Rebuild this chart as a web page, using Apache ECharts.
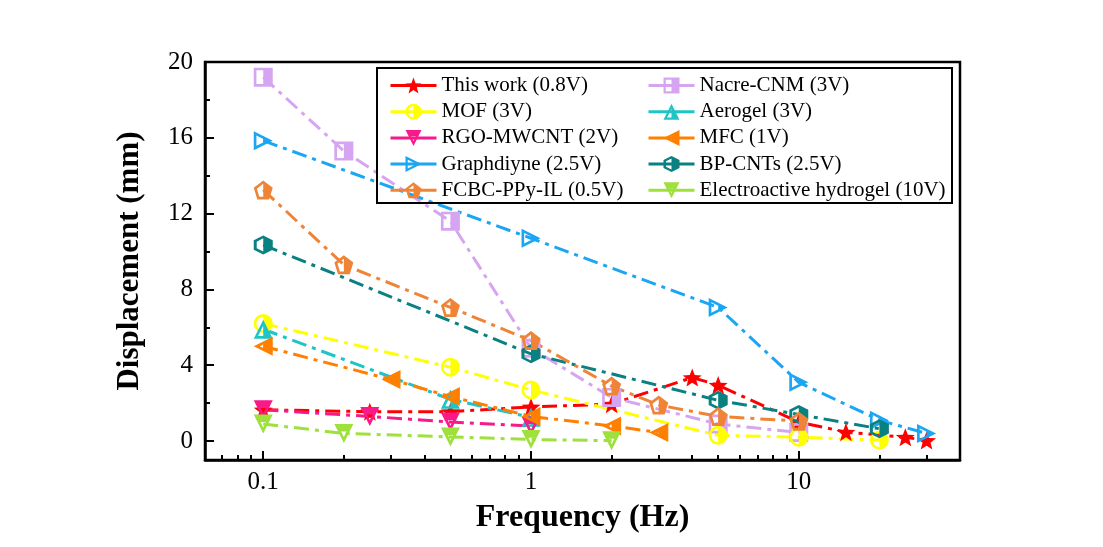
<!DOCTYPE html>
<html>
<head>
<meta charset="utf-8">
<script src="https://cdn.jsdelivr.net/npm/echarts@6/dist/echarts.min.js"></script>
<style>
  html, body { margin: 0; padding: 0; background: #fff; }
  #chart { width: 1103px; height: 547px; }
</style>
</head>
<body>
<div id="chart"></div>
<script>
// 各材料的频率(Hz)与位移(mm)
const freqThisWork = [0.1, 0.25, 0.5, 1, 2, 4, 5, 10, 15, 25, 30];
const dispThisWork = [1.65, 1.55, 1.55, 1.8, 1.95, 3.35, 2.95, 1.0, 0.47, 0.2, 0.03];
const freqNacre = [0.1, 0.2, 0.5, 1, 2, 5, 10];
const dispNacre = [19.2, 15.3, 11.6, 4.9, 2.3, 0.9, 0.45];
const freqMOF = [0.1, 0.5, 1, 5, 10, 20];
const dispMOF = [6.2, 3.9, 2.7, 0.3, 0.2, 0.05];
const freqAerogel = [0.1, 0.5, 1];
const dispAerogel = [5.9, 2.2, 1.25];
const freqRGO = [0.1, 0.25, 0.5, 1];
const dispRGO = [1.65, 1.3, 1.0, 0.8];
const freqMFC = [0.1, 0.3, 0.5, 1, 2, 3];
const dispMFC = [5.0, 3.25, 2.35, 1.3, 0.8, 0.45];
const freqGraphdiyne = [0.1, 1, 5, 10, 20, 30];
const dispGraphdiyne = [15.85, 10.7, 7.05, 3.1, 1.1, 0.4];
const freqBP = [0.1, 1, 5, 10, 20];
const dispBP = [10.35, 4.6, 2.15, 1.4, 0.65];
const freqFCBC = [0.1, 0.2, 0.5, 1, 2, 3, 5, 10];
const dispFCBC = [13.25, 9.3, 7.05, 5.3, 2.9, 1.9, 1.3, 1.05];
const freqHydrogel = [0.1, 0.2, 0.5, 1, 2];
const dispHydrogel = [0.9, 0.4, 0.22, 0.08, 0.02];

// 刻度
const xLabelTicks = [0.1, 1, 10];
const xMinorTicks = [0.07, 0.08, 0.09, 0.2, 0.3, 0.4, 0.5, 0.6, 0.7, 0.8, 0.9,
  2, 3, 4, 5, 6, 7, 8, 9, 20, 30];
const yLabelTicks = [0, 4, 8, 12, 16, 20];
const yMinorTicks = [2, 6, 10, 14, 18];

const FONT = 'Liberation Serif';

// 半填充符号（外框环 + 一半填充）
function shoelace(pts) {
  let s = 0;
  for (let i = 0; i < pts.length; i++) {
    const a = pts[i], b = pts[(i + 1) % pts.length];
    s += a[0] * b[1] - b[0] * a[1];
  }
  return s;
}
function orient(pts, sign) {
  return Math.sign(shoelace(pts)) === sign ? pts : pts.slice().reverse();
}
function polyStr(pts) {
  return 'M' + pts.map(p => p[0].toFixed(2) + ' ' + p[1].toFixed(2)).join(' L') + ' Z';
}
function edgeDist(c, a, b) {
  const dx = b[0] - a[0], dy = b[1] - a[1];
  return Math.abs(dx * (a[1] - c[1]) - dy * (a[0] - c[0])) / Math.hypot(dx, dy);
}
function halfSymbol(outer, fill, t) {
  let c;
  if (outer.length === 3) {
    const [A, B, C] = outer;
    const a = Math.hypot(B[0] - C[0], B[1] - C[1]);
    const b = Math.hypot(C[0] - A[0], C[1] - A[1]);
    const cc = Math.hypot(A[0] - B[0], A[1] - B[1]);
    const s = a + b + cc;
    c = [(a * A[0] + b * B[0] + cc * C[0]) / s, (a * A[1] + b * B[1] + cc * C[1]) / s];
  } else {
    c = [outer.reduce((s, p) => s + p[0], 0) / outer.length,
         outer.reduce((s, p) => s + p[1], 0) / outer.length];
  }
  let r = Infinity;
  for (let i = 0; i < outer.length; i++) {
    r = Math.min(r, edgeDist(c, outer[i], outer[(i + 1) % outer.length]));
  }
  const k = 1 - t / r;
  const o = orient(outer, 1);
  const inner = orient(o.map(p => [c[0] + (p[0] - c[0]) * k, c[1] + (p[1] - c[1]) * k]), -1);
  const f = orient(fill, 1);
  return 'path://' + polyStr(o) + ' ' + polyStr(inner) + ' ' + polyStr(f);
}

const T = 14;
const symSquare = halfSymbol([[0, 0], [100, 0], [100, 100], [0, 100]],
  [[50, 0], [100, 0], [100, 100], [50, 100]], T);
const symUp = halfSymbol([[50, 0], [100, 100], [0, 100]],
  [[50, 0], [100, 100], [50, 100]], T);
const symDown = halfSymbol([[0, 0], [100, 0], [50, 100]],
  [[0, 0], [100, 0], [80, 40], [20, 40]], T);
const symRight = halfSymbol([[0, 0], [100, 50], [0, 100]],
  [[50, 25], [100, 50], [50, 75]], T);
const symLeft = halfSymbol([[100, 0], [100, 100], [0, 50]],
  [[50, 25], [100, 0], [100, 100], [50, 75]], T);
const symPent = halfSymbol([[50, 0], [100, 38], [81, 100], [19, 100], [0, 38]],
  [[50, 0], [100, 38], [81, 100], [50, 100]], T);
const symHex = halfSymbol([[50, 0], [100, 25], [100, 75], [50, 100], [0, 75], [0, 25]],
  [[50, 0], [100, 25], [100, 75], [50, 100]], T);
const symCircle = 'path://M50 0 A50 50 0 1 1 50 100 A50 50 0 1 1 50 0 Z ' +
  'M50 14 A36 36 0 1 0 50 86 A36 36 0 1 0 50 14 Z M50 0 A50 50 0 0 1 50 100 Z';
const starPts = [];
for (let i = 0; i < 10; i++) {
  const ang = -Math.PI / 2 + i * Math.PI / 5;
  const rr = i % 2 === 0 ? 50 : 21;
  starPts.push([50 + rr * Math.cos(ang), 50 + rr * Math.sin(ang)]);
}
const symStar = 'path://' + polyStr(starPts);

function line(name, xs, ys, color, symbol) {
  return {
    name: name,
    type: 'line',
    data: xs.map((x, i) => [x, ys[i]]),
    symbol: symbol,
    symbolSize: 19,
    symbolKeepAspect: true,
    itemStyle: { color: color, borderWidth: 0 },
    lineStyle: { color: color, width: 3, type: [15, 6, 4, 6] },
    emphasis: { disabled: true }
  };
}

const series = [
  line('This work (0.8V)', freqThisWork, dispThisWork, '#ff0000', symStar),
  line('Nacre-CNM (3V)', freqNacre, dispNacre, '#d6a5f2', symSquare),
  line('MOF (3V)', freqMOF, dispMOF, '#ffff00', symCircle),
  line('Aerogel (3V)', freqAerogel, dispAerogel, '#1fc4c6', symUp),
  line('RGO-MWCNT (2V)', freqRGO, dispRGO, '#f8198a', symDown),
  line('MFC (1V)', freqMFC, dispMFC, '#ff8000', symLeft),
  line('Graphdiyne (2.5V)', freqGraphdiyne, dispGraphdiyne, '#1aa6f2', symRight),
  line('BP-CNTs (2.5V)', freqBP, dispBP, '#0a8080', symHex),
  line('FCBC-PPy-IL (0.5V)', freqFCBC, dispFCBC, '#f08436', symPent),
  line('Electroactive hydrogel (10V)', freqHydrogel, dispHydrogel, '#9ee03c', symDown)
];

const legendCommon = {
  orient: 'vertical',
  top: 70,
  itemWidth: 46,
  itemHeight: 20,
  itemGap: 5.2,
  lineStyle: { type: 'solid', width: 3 },
  textStyle: { fontFamily: FONT, fontSize: 21, color: '#000', lineHeight: 20 },
  selectedMode: false
};

const chart = echarts.init(document.getElementById('chart'));
chart.setOption({
  animation: false,
  backgroundColor: '#fff',
  grid: {
    left: 205, top: 62, right: 143, bottom: 87,
    show: true, borderColor: '#000', borderWidth: 2.5, backgroundColor: 'transparent'
  },
  legend: [
    Object.assign({ left: 384, data: series.filter((s, i) => i % 2 === 0).map(s => s.name) }, legendCommon),
    Object.assign({ left: 642, data: series.filter((s, i) => i % 2 === 1).map(s => s.name) }, legendCommon)
  ],
  graphic: [{
    type: 'rect',
    shape: { x: 377, y: 68, width: 575, height: 135 },
    style: { fill: 'transparent', stroke: '#000', lineWidth: 2 },
    z: 100
  }],
  xAxis: [
    {
      type: 'log', min: 0.0606, max: 40,
      name: 'Frequency (Hz)', nameLocation: 'middle', nameGap: 42,
      nameTextStyle: { fontFamily: FONT, fontSize: 32, fontWeight: 'bold', color: '#000' },
      axisLine: { onZero: false, lineStyle: { color: '#000', width: 2.5 } },
      axisTick: { inside: true, length: 9, lineStyle: { color: '#000', width: 2 }, customValues: xLabelTicks },
      axisLabel: { customValues: xLabelTicks, fontFamily: FONT, fontSize: 25, color: '#000', margin: 10 },
      splitLine: { show: false },
      minorTick: { show: false }
    },
    {
      type: 'log', min: 0.0606, max: 40, position: 'bottom',
      axisLine: { show: false, onZero: false },
      axisTick: { inside: true, length: 5, lineStyle: { color: '#000', width: 2 }, customValues: xMinorTicks },
      axisLabel: { show: false },
      splitLine: { show: false }
    }
  ],
  yAxis: [
    {
      type: 'value', min: -1, max: 20,
      name: 'Displacement (mm)', nameLocation: 'middle', nameGap: 60,
      nameTextStyle: { fontFamily: FONT, fontSize: 31, fontWeight: 'bold', color: '#000' },
      axisLine: { show: true, onZero: false, lineStyle: { color: '#000', width: 2.5 } },
      axisTick: { show: true, inside: true, length: 9, lineStyle: { color: '#000', width: 2 }, customValues: yLabelTicks },
      axisLabel: { customValues: yLabelTicks, fontFamily: FONT, fontSize: 25, color: '#000', margin: 12 },
      splitLine: { show: false }
    },
    {
      type: 'value', min: -1, max: 20, position: 'left',
      axisLine: { show: false, onZero: false },
      axisTick: { show: true, inside: true, length: 5, lineStyle: { color: '#000', width: 2 }, customValues: yMinorTicks },
      axisLabel: { show: false },
      splitLine: { show: false }
    }
  ],
  series: series
});
</script>
</body>
</html>
